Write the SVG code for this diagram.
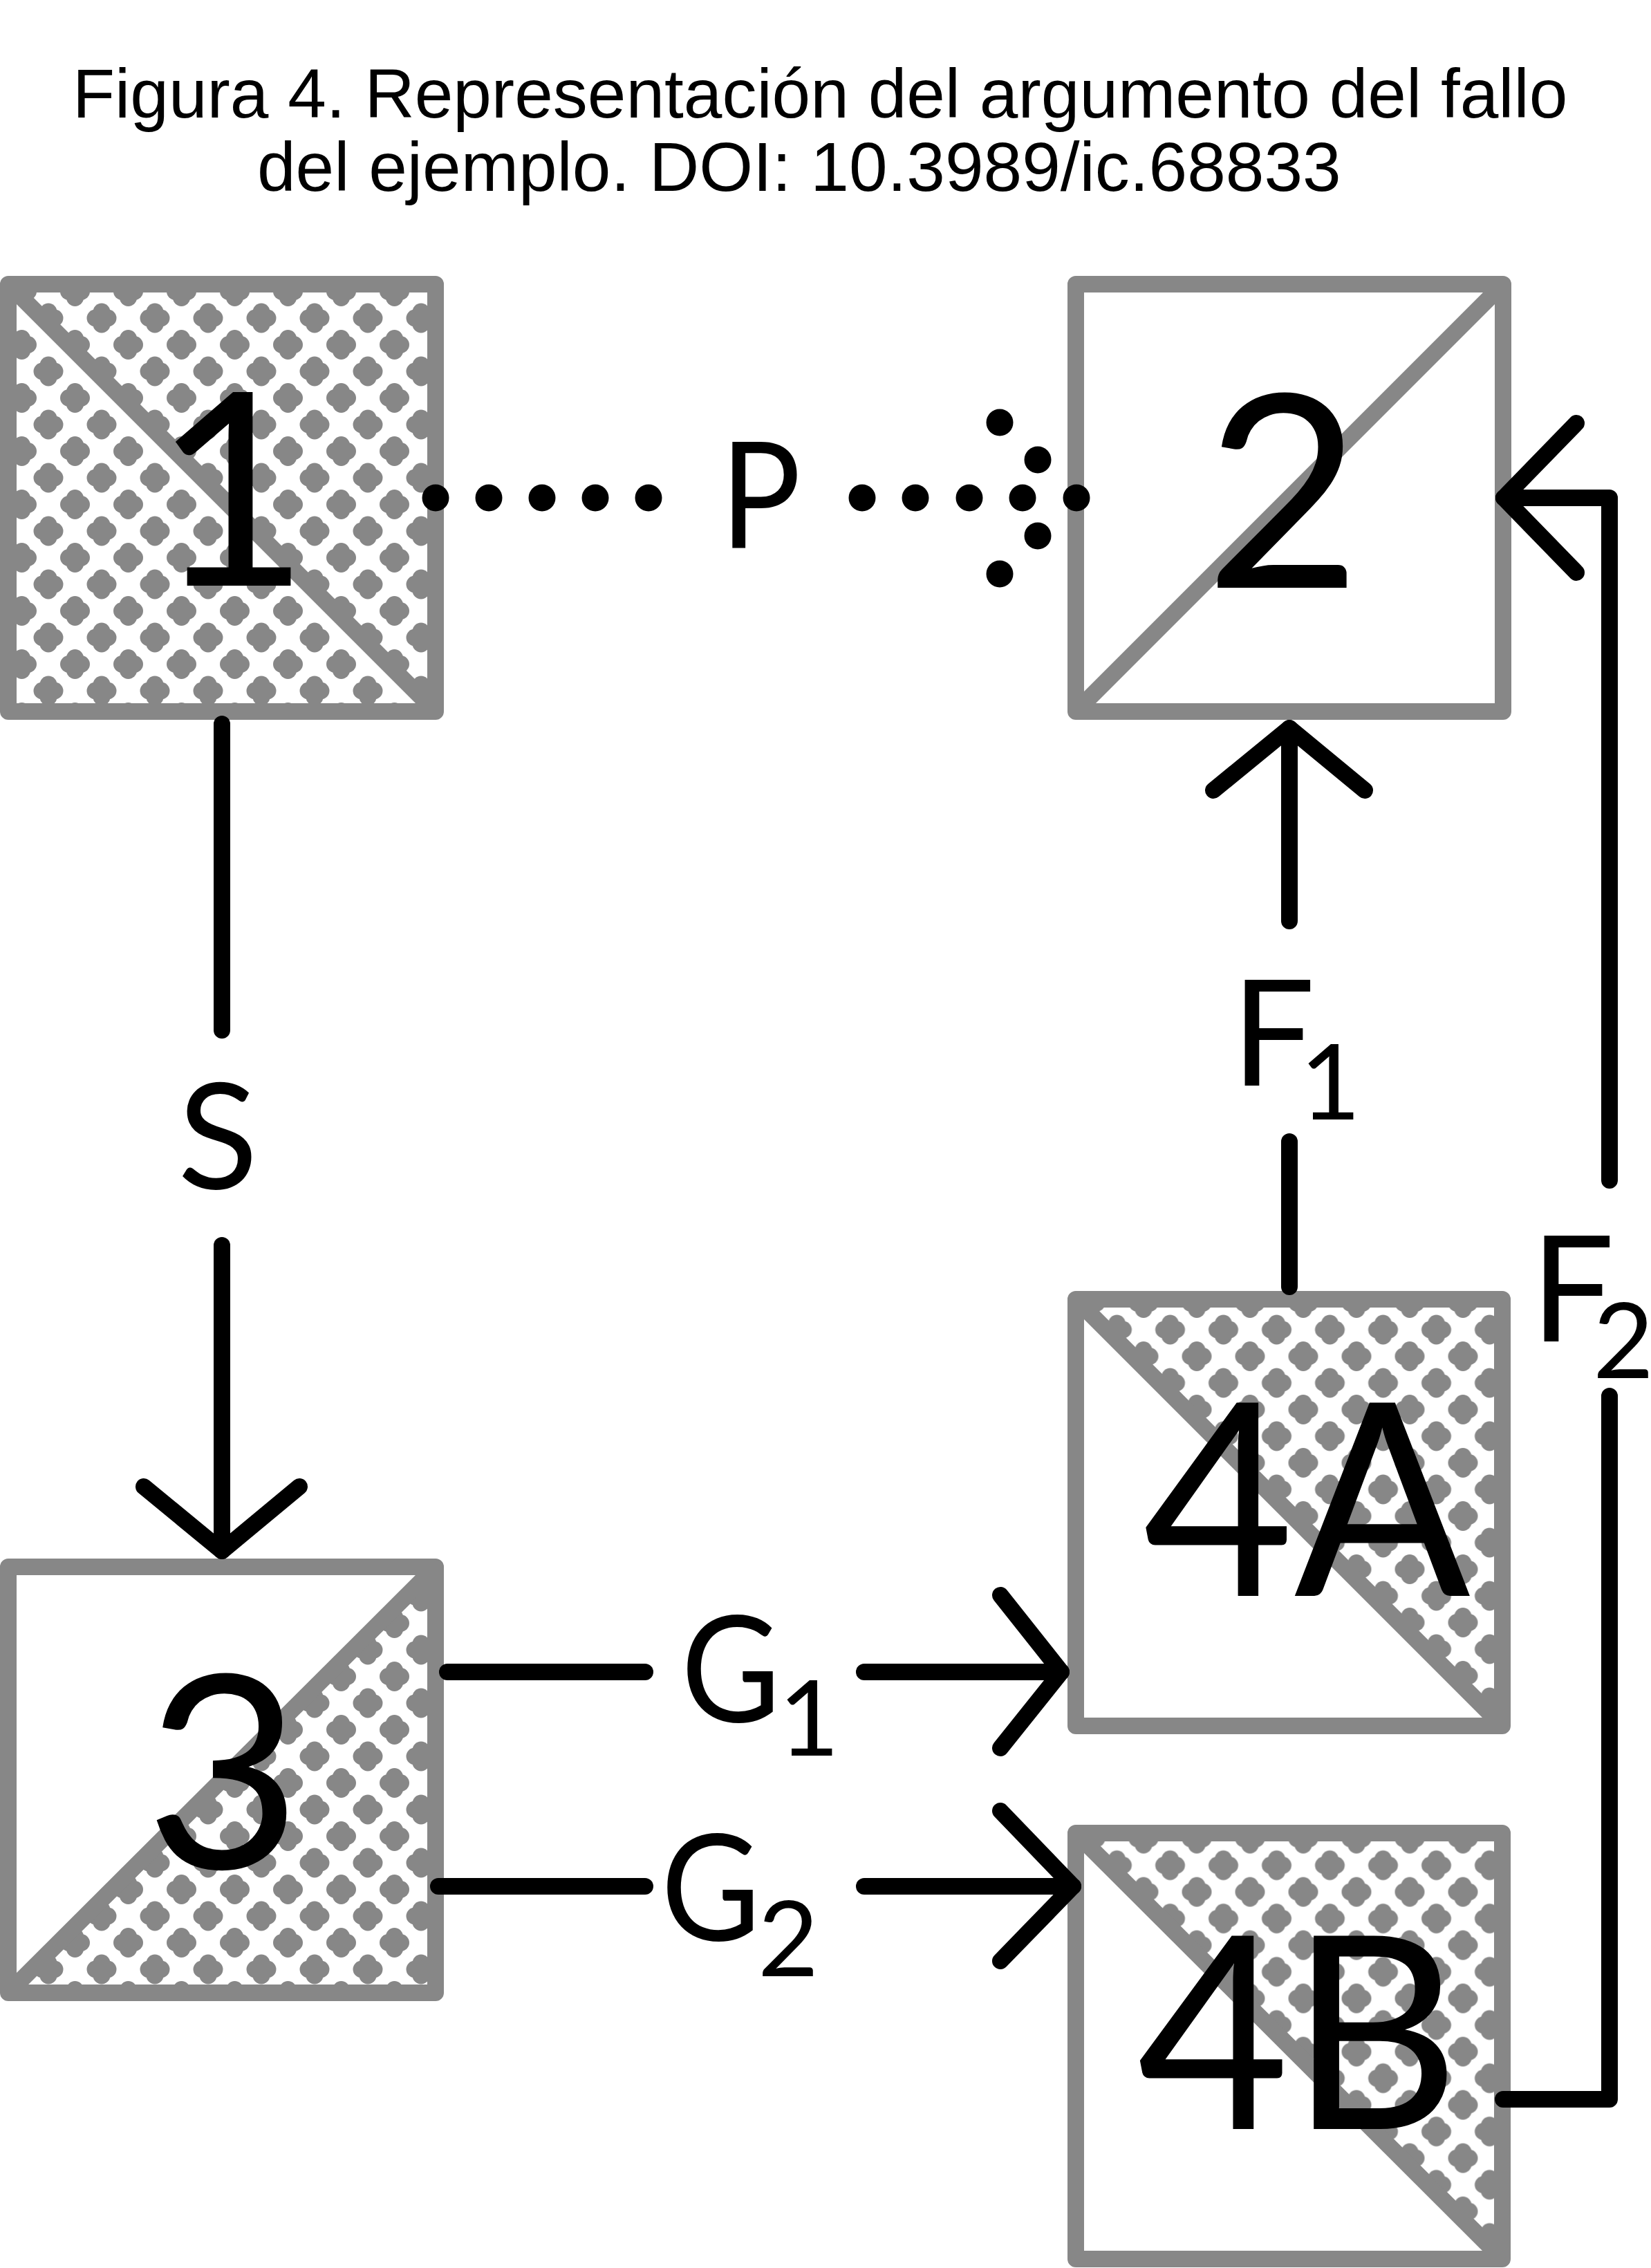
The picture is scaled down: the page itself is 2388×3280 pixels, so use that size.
<svg xmlns="http://www.w3.org/2000/svg" width="2388" height="3280" viewBox="0 0 2388 3280">
<style>
.box{fill:none;stroke:#878787;stroke-width:24;stroke-linejoin:round}
.diag{stroke:#878787;stroke-width:24;stroke-linecap:butt}
.strip{stroke:#ffffff;stroke-width:16;stroke-linecap:butt}
.num{font-family:Lato,"Open Sans","DejaVu Sans",sans-serif;font-size:390px;fill:#000;text-anchor:middle}
.lbl{font-family:Lato,"Open Sans","DejaVu Sans",sans-serif;font-size:214px;fill:#000;text-anchor:middle}
.lbls{font-family:Lato,"Open Sans","DejaVu Sans",sans-serif;font-size:214px;fill:#000;text-anchor:start}
.sub{font-size:152px}
.title{font-family:"Liberation Sans",Arial,sans-serif;font-size:100px;fill:#000}
.con{fill:none;stroke:#000;stroke-width:24;stroke-linecap:round;stroke-linejoin:round}
.dot{fill:#000}
</style>
<defs>
<g id="q"><circle cx="0" cy="-9" r="12.5"/><circle cx="0" cy="9" r="12.5"/><circle cx="-9" cy="0" r="12.5"/><circle cx="9" cy="0" r="12.5"/></g>
<g id="tile" fill="#878787"><use href="#q"/><use href="#q" x="77"/><use href="#q" y="77"/><use href="#q" x="77" y="77"/><use href="#q" x="38.5" y="38.5"/></g>
<pattern id="pat1" patternUnits="userSpaceOnUse" x="147" y="460" width="77" height="77"><use href="#tile"/></pattern>
<pattern id="pat3" patternUnits="userSpaceOnUse" x="609" y="2386" width="77" height="77"><use href="#tile"/></pattern>
<pattern id="pat4a" patternUnits="userSpaceOnUse" x="1692.5" y="1923" width="77" height="77"><use href="#tile"/></pattern>
<pattern id="pat4b" patternUnits="userSpaceOnUse" x="1692.5" y="2697.6" width="77" height="77"><use href="#tile"/></pattern>
</defs>
<rect width="2388" height="3280" fill="#fff"/>
<g id="title">
<text class="title" x="105" y="170">Figura 4. Representación del argumento del fallo</text>
<text class="title" x="372" y="276">del ejemplo. DOI: 10.3989/ic.68833</text>
</g>
<g id="node-1">
<rect x="12" y="411" width="618" height="618" fill="url(#pat1)"/>
<line class="strip" x1="2.1" y1="420.9" x2="620.1" y2="1038.9"/>
<line class="diag" x1="12" y1="411" x2="630" y2="1029"/>
<rect class="box" x="12" y="411" width="618" height="618"/>
<text class="num" x="335" y="847">1</text>
</g>
<g id="node-2">
<line class="diag" x1="1556" y1="1029" x2="2174" y2="411"/>
<rect class="box" x="1556" y="411" width="618" height="618"/>
<text class="num" x="1856" y="850">2</text>
</g>
<g id="node-3">
<polygon points="12,2882 630,2266 630,2882" fill="url(#pat3)"/>
<line class="diag" x1="12" y1="2882" x2="630" y2="2266"/>
<rect class="box" x="12" y="2266" width="618" height="616"/>
<text class="num" x="323" y="2702">3</text>
</g>
<g id="node-4A">
<polygon points="1556,1879 2173,1879 2173,2496" fill="url(#pat4a)"/>
<line class="diag" x1="1556" y1="1879" x2="2173" y2="2496"/>
<rect class="box" x="1556" y="1879" width="617" height="617"/>
<text class="num" x="1890" y="2308" textLength="474" lengthAdjust="spacingAndGlyphs">4A</text>
</g>
<g id="node-4B">
<polygon points="1556,2651 2173,2651 2173,3267" fill="url(#pat4b)"/>
<line class="diag" x1="1556" y1="2651" x2="2173" y2="3267"/>
<rect class="box" x="1556" y="2651" width="617" height="616"/>
<text class="num" x="1878" y="3079" textLength="467" lengthAdjust="spacingAndGlyphs">4B</text>
</g>
<g id="connectors">
<g id="edge-P">
<circle class="dot" cx="630" cy="720" r="19.5"/>
<circle class="dot" cx="707" cy="720" r="19.5"/>
<circle class="dot" cx="784" cy="720" r="19.5"/>
<circle class="dot" cx="861" cy="720" r="19.5"/>
<circle class="dot" cx="938" cy="720" r="19.5"/>
<circle class="dot" cx="1247" cy="720" r="19.5"/>
<circle class="dot" cx="1324" cy="720" r="19.5"/>
<circle class="dot" cx="1402" cy="720" r="19.5"/>
<circle class="dot" cx="1479" cy="720" r="19.5"/>
<circle class="dot" cx="1557" cy="720" r="19.5"/>
<circle class="dot" cx="1501" cy="665" r="19.5"/>
<circle class="dot" cx="1446" cy="611" r="19.5"/>
<circle class="dot" cx="1501" cy="775" r="19.5"/>
<circle class="dot" cx="1446" cy="830" r="19.5"/>
<text class="lbl" x="1100" y="792" textLength="117" lengthAdjust="spacingAndGlyphs">P</text>
</g>
<g id="edge-S">
<path class="con" d="M321 1047 V1490"/>
<path class="con" d="M321 1801 V2243"/>
<path class="con" d="M208 2150 L321 2243 L433 2150"/>
<text class="lbl" x="315" y="1719">S</text>
</g>
<g id="edge-G1">
<path class="con" d="M647 2418 H933"/>
<path class="con" d="M1250 2418 H1535"/>
<path class="con" d="M1447 2307 L1535 2418 L1447 2528"/>
<text class="lbls" x="985" y="2490"><tspan textLength="144" lengthAdjust="spacingAndGlyphs">G</tspan><tspan class="sub" dx="-3" dy="49">1</tspan></text>
</g>
<g id="edge-G2">
<path class="con" d="M634 2728 H933"/>
<path class="con" d="M1250 2728 H1552"/>
<path class="con" d="M1447 2619 L1552 2728 L1447 2836"/>
<text class="lbls" x="956" y="2806"><tspan textLength="144" lengthAdjust="spacingAndGlyphs">G</tspan><tspan class="sub" dx="-4" dy="52">2</tspan></text>
</g>
<g id="edge-F1">
<path class="con" d="M1865 1861 V1651"/>
<path class="con" d="M1865 1332 V1053"/>
<path class="con" d="M1755 1143 L1865 1053 L1974 1143"/>
<text class="lbls" x="1781" y="1570">F<tspan class="sub" dx="-22" dy="49">1</tspan></text>
</g>
<g id="edge-F2">
<path class="con" d="M2174 3036 H2328 V2019"/>
<path class="con" d="M2328 1707 V720 H2175"/>
<path class="con" d="M2280 612 L2175 720 L2280 828"/>
<text class="lbls" x="2214" y="1940">F<tspan class="sub" dx="-31" dy="53">2</tspan></text>
</g>
</g>
</svg>
